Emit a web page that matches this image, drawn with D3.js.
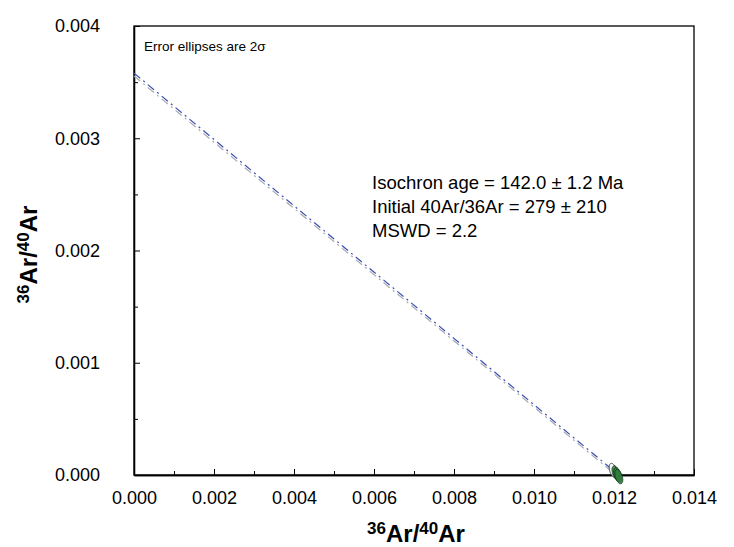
<!DOCTYPE html>
<html>
<head>
<meta charset="utf-8">
<script src="https://cdn.jsdelivr.net/npm/d3@7"></script>
<style>
  body { margin: 0; background: #fff; }
  svg { font-family: Arial, "Liberation Sans", sans-serif; }
  .axis text { font-size: 18px; fill: #000; }
  .axis path, .axis line { stroke: #000; }
</style>
</head>
<body>
<svg id="chart" width="734" height="547"></svg>
<script>
// tick values
var xTicks = [0, 0.002, 0.004, 0.006, 0.008, 0.010, 0.012, 0.014];
var xMinor = [0.001, 0.003, 0.005, 0.007, 0.009, 0.011, 0.013];
var yTicks = [0, 0.001, 0.002, 0.003, 0.004];
var yMinor = [0.0005, 0.0015, 0.0025, 0.0035];

// analyses: x, y, 1 sigma errors, error correlation
var ptX   = [0.01198, 0.01205, 0.01209, 0.01212];
var ptY   = [0.000040, 0.000018, 0.000002, -0.000014];
var ptSx  = [0.000050, 0.000050, 0.000050, 0.000050];
var ptSy  = [0.000032, 0.000032, 0.000032, 0.000032];
var ptRho = [-0.45, -0.45, -0.45, -0.45];
var ptFill = ["#ffffff", "#2e7d3a", "#2e7d3a", "#2e7d3a"];

// isochron fit (intercepts on each axis)
var fitYint = 0.00358;
var fitXint = 0.01212;
var envYint = 0.003555;
var envXint = 0.01205;

var svg = d3.select("#chart"),
    margin = {top: 26, right: 40, bottom: 72, left: 134},
    width = +svg.attr("width") - margin.left - margin.right,
    height = +svg.attr("height") - margin.top - margin.bottom;

var x = d3.scaleLinear().domain([0, 0.014]).range([0, width]);
var y = d3.scaleLinear().domain([0, 0.004]).range([height, 0]);

var g = svg.append("g")
    .attr("transform", "translate(" + margin.left + "," + margin.top + ")");

// frame
g.append("rect")
    .attr("width", width)
    .attr("height", height)
    .attr("fill", "none")
    .attr("stroke", "#000")
    .attr("stroke-width", 1.3);

g.append("g")
    .attr("class", "x axis")
    .attr("transform", "translate(0," + height + ")")
    .call(d3.axisBottom(x).tickValues(xTicks).tickFormat(d3.format(".3f"))
      .tickSizeInner(-6).tickSizeOuter(0).tickPadding(16));

g.append("g")
    .attr("class", "x axis minor")
    .attr("transform", "translate(0," + height + ")")
    .call(d3.axisBottom(x).tickValues(xMinor).tickFormat("")
      .tickSizeInner(-4).tickSizeOuter(0));

g.append("g")
    .attr("class", "y axis")
    .call(d3.axisLeft(y).tickValues(yTicks).tickFormat(d3.format(".3f"))
      .tickSizeInner(-6).tickSizeOuter(0).tickPadding(34));

g.append("g")
    .attr("class", "y axis minor")
    .call(d3.axisLeft(y).tickValues(yMinor).tickFormat("")
      .tickSizeInner(-4).tickSizeOuter(0));

g.selectAll(".axis path").attr("stroke-width", 1.3);

// isochron lines
var line = d3.line()
    .x(function(d) { return x(d[0]); })
    .y(function(d) { return y(d[1]); });

g.append("path")
    .datum([[0, envYint], [envXint, 0]])
    .attr("d", line)
    .attr("fill", "none")
    .attr("stroke", "#a8a8b4")
    .attr("stroke-width", 1.2)
    .attr("stroke-dasharray", "8,4,2,4");

g.append("path")
    .datum([[0, fitYint], [fitXint * 0.995, fitYint * 0.005]])
    .attr("d", line)
    .attr("fill", "none")
    .attr("stroke", "#3a4fb0")
    .attr("stroke-width", 1.2)
    .attr("stroke-dasharray", "8,4,2,4");

// error ellipses (2 sigma)
function ellipse(i) {
  var pts = [];
  var k = 2;
  for (var t = 0; t <= 64; t++) {
    var a = t / 64 * 2 * Math.PI;
    var u = Math.cos(a), v = Math.sin(a);
    var ex = ptX[i] + k * ptSx[i] * u;
    var ey = ptY[i] + k * ptSy[i] * (ptRho[i] * u + Math.sqrt(1 - ptRho[i] * ptRho[i]) * v);
    pts.push([ex, ey]);
  }
  return pts;
}

g.selectAll(".ell")
    .data(d3.range(ptX.length))
  .enter().append("path")
    .attr("class", "ell")
    .attr("d", function(i) { return line(ellipse(i)) + "Z"; })
    .attr("fill", function(i) { return ptFill[i]; })
    .attr("fill-opacity", 0.85)
    .attr("stroke", "#10301a")
    .attr("stroke-width", 0.8);

// notes
g.append("text")
    .attr("x", 10)
    .attr("y", 25)
    .attr("font-size", 13.5)
    .text("Error ellipses are 2σ");

var notes = ["Isochron age = 142.0 ± 1.2 Ma", "Initial 40Ar/36Ar = 279 ± 210", "MSWD = 2.2"];
g.selectAll(".note")
    .data(notes)
  .enter().append("text")
    .attr("class", "note")
    .attr("x", 238)
    .attr("y", function(d, i) { return 163 + i * 24; })
    .attr("font-size", 18.5)
    .text(function(d) { return d; });

// axis titles
function title(sel) {
  sel.attr("font-weight", "bold").attr("font-size", 24);
  sel.append("tspan").attr("font-size", 17).attr("dy", -8).text("36");
  sel.append("tspan").attr("dy", 8).text("Ar/");
  sel.append("tspan").attr("font-size", 17).attr("dy", -8).text("40");
  sel.append("tspan").attr("dy", 8).text("Ar");
}

svg.append("text")
    .attr("text-anchor", "middle")
    .attr("x", margin.left + width / 2 + 2)
    .attr("y", 542)
    .call(title);

svg.append("text")
    .attr("text-anchor", "middle")
    .attr("transform", "translate(37," + (margin.top + height / 2 + 4) + ") rotate(-90)")
    .call(title);
</script>
</body>
</html>
